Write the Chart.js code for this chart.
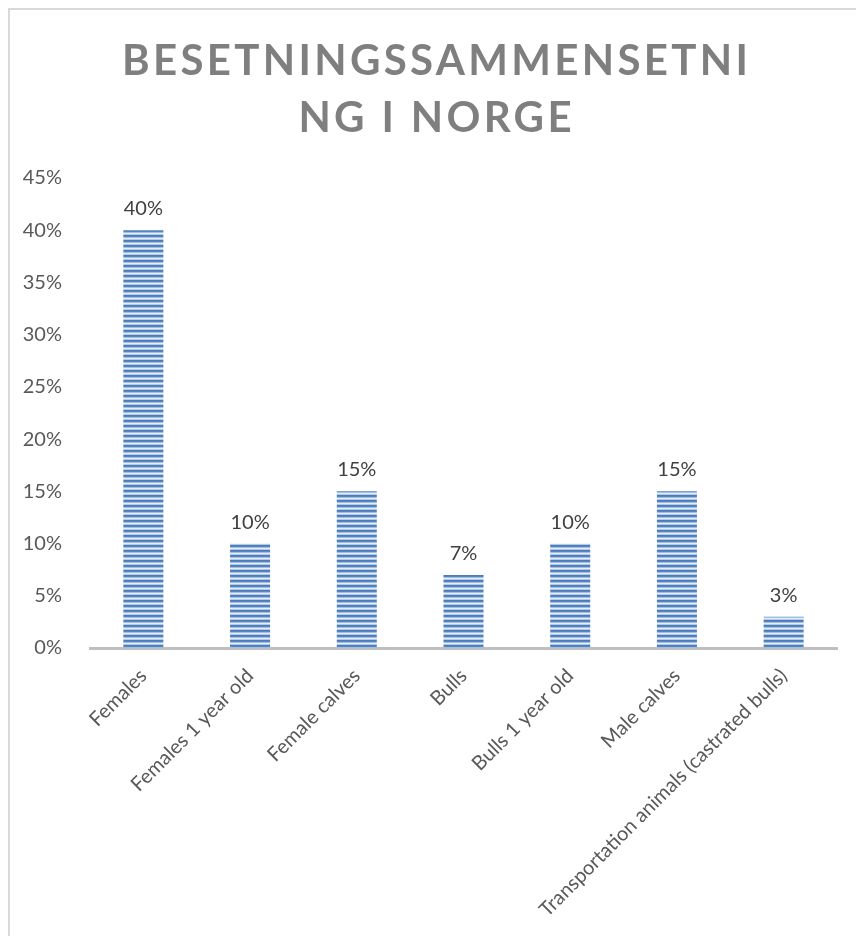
<!DOCTYPE html>
<html>
<head>
<meta charset="utf-8">
<script src="https://cdn.jsdelivr.net/npm/chart.js@4"></script>
<style>
  body { margin: 0; background: #fff; }
  #wrap {
    position: absolute; left: 8px; top: 8px;
    width: 846px; height: 926px;
    border-left: 2px solid #d9d9d9; border-top: 2px solid #d9d9d9;
  }
  canvas { display: block; }
</style>
</head>
<body>
<div id="wrap"><canvas id="chart" width="846" height="926"></canvas></div>
<script>
// データ
const titleLines = ['BESETNINGSSAMMENSETNI', 'NG I NORGE'];
const categories = ['Females', 'Females 1 year old', 'Female calves', 'Bulls', 'Bulls 1 year old', 'Male calves', 'Transportation animals (castrated bulls)'];
const shares = [40, 10, 15, 7, 10, 15, 3];
const yTicks = [0, 5, 10, 15, 20, 25, 30, 35, 40, 45];

// 横縞のパターンを作る
function makeStripes() {
    const c = document.createElement('canvas');
    c.width = 1;
    c.height = 5;
    const g = c.getContext('2d');
    const rows = ['#4a7cbc', '#5686c2', '#a3bde0', '#e6edf7', '#b3c9e6'];
    rows.forEach((col, i) => {
        g.fillStyle = col;
        g.fillRect(0, i, 1, 1);
    });
    return g.createPattern(c, 'repeat');
}

// タイトルを文字間隔つきで描く
const titlePlugin = {
    id: 'spacedTitle',
    afterDraw(chart) {
        const ctx = chart.ctx;
        ctx.save();
        ctx.font = 'bold 42px Lato';
        ctx.fillStyle = '#7f7f7f';
        ctx.textBaseline = 'alphabetic';
        ctx.textAlign = 'left';
        const w0 = ctx.measureText(titleLines[0]).width;
        const spacing = (626 - w0) / (titleLines[0].length - 1);
        ctx.letterSpacing = spacing + 'px';
        const cx = 425;
        const baselines = [65, 122];
        titleLines.forEach((line, i) => {
            const w = ctx.measureText(line).width - spacing;
            ctx.fillText(line, cx - w / 2, baselines[i]);
        });
        ctx.restore();
    }
};

// 棒の上に値ラベル
const valueLabels = {
    id: 'valueLabels',
    afterDatasetsDraw(chart) {
        const ctx = chart.ctx;
        const meta = chart.getDatasetMeta(0);
        ctx.save();
        ctx.font = '20px Lato';
        ctx.fillStyle = '#404040';
        ctx.textAlign = 'center';
        ctx.textBaseline = 'alphabetic';
        meta.data.forEach((bar, i) => {
            ctx.fillText(shares[i] + '%', bar.x, bar.y - 15);
        });
        ctx.restore();
    }
};

const ctx = document.getElementById('chart').getContext('2d');
new Chart(ctx, {
    type: 'bar',
    data: {
        labels: categories,
        datasets: [{
            data: shares,
            backgroundColor: makeStripes(),
            borderWidth: 0,
            barPercentage: 0.375,
            categoryPercentage: 1
        }]
    },
    options: {
        responsive: false,
        animation: false,
        layout: { padding: { top: 168, right: 19, left: 0, bottom: 0 } },
        plugins: {
            legend: { display: false },
            title: { display: false },
            tooltip: { enabled: false }
        },
        scales: {
            x: {
                grid: { display: false },
                border: { display: true, color: '#bfbfbf', width: 3 },
                ticks: {
                    color: '#595959',
                    font: { family: 'Lato', size: 20 },
                    minRotation: 45,
                    maxRotation: 45,
                    padding: 8
                },
                afterFit(scale) { scale.height = 288; }
            },
            y: {
                min: 0,
                max: 45,
                grid: { display: false },
                border: { display: false },
                afterBuildTicks(scale) { scale.ticks = yTicks.map(v => ({ value: v })); },
                ticks: {
                    color: '#595959',
                    font: { family: 'Lato', size: 20 },
                    padding: 20,
                    callback: v => v + '%'
                },
                afterFit(scale) { scale.width = 80; }
            }
        }
    },
    plugins: [titlePlugin, valueLabels]
});
</script>
</body>
</html>
